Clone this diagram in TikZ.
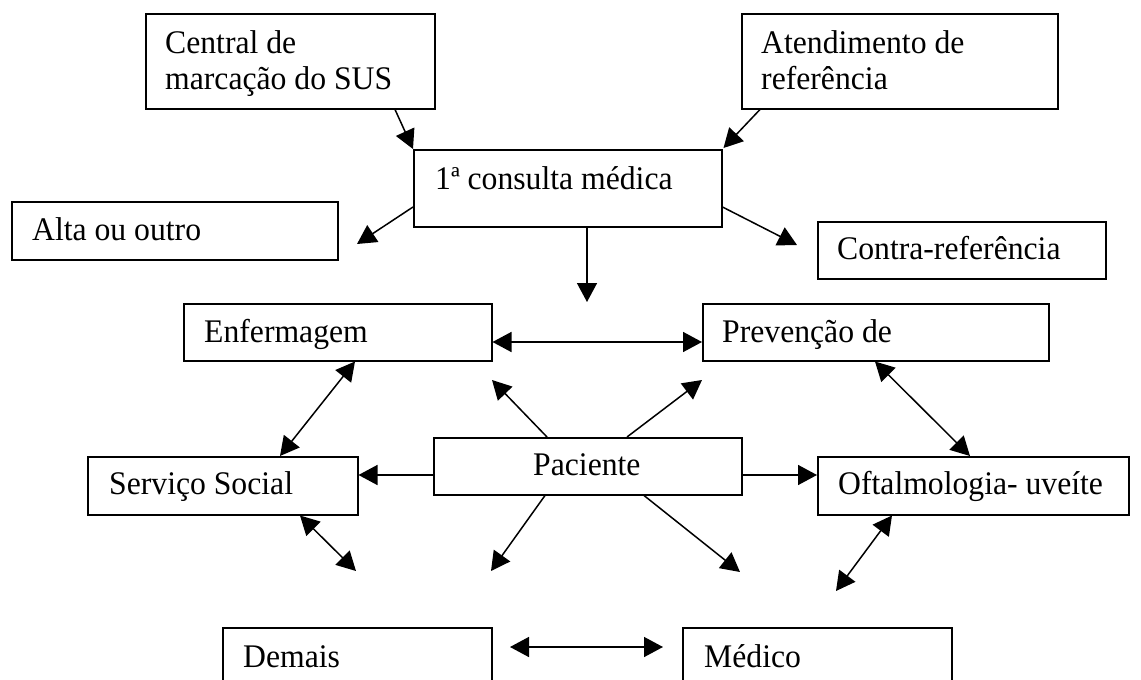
\documentclass[tikz,border=0pt]{standalone}
\usepackage{fontspec}
\setmainfont[FakeStretch=0.96]{Liberation Serif}
\usetikzlibrary{arrows.meta}
\tikzset{
 box/.style={draw, line width=1.5pt, rectangle, inner sep=0pt, anchor=north west},
 txt/.style={anchor=base west, inner sep=0pt, align=left, font=\fontsize{33}{36}\selectfont},
 arr/.style={line width=1.5pt, -{Triangle[length=19pt,width=20pt]}},
 darr/.style={line width=1.5pt, {Triangle[length=19pt,width=20pt]}-{Triangle[length=19pt,width=20pt]}},
}
\begin{document}
\begin{tikzpicture}[x=1pt,y=-1pt]
\useasboundingbox (0,0) rectangle (1141,680);
% boxes
\node[box, minimum width=289pt, minimum height=95pt] (cen) at (145,13) {};
\node[box, minimum width=316pt, minimum height=95pt] (ate) at (741,13) {};
\node[box, minimum width=308pt, minimum height=77pt] (con) at (413,149) {};
\node[box, minimum width=326pt, minimum height=58pt] (alt) at (11,201) {};
\node[box, minimum width=288pt, minimum height=57pt] (ctr) at (817,221) {};
\node[box, minimum width=308pt, minimum height=57pt] (enf) at (183,303) {};
\node[box, minimum width=346pt, minimum height=57pt] (pre) at (702,303) {};
\node[box, minimum width=270pt, minimum height=58pt] (ser) at (87,456) {};
\node[box, minimum width=308pt, minimum height=57pt] (pac) at (433,437) {};
\node[box, minimum width=311pt, minimum height=58pt] (oft) at (817,456) {};
\node[box, minimum width=269pt, minimum height=80pt] (dem) at (222,627) {};
\node[box, minimum width=269pt, minimum height=80pt] (med) at (682,627) {};
% texts
\node[txt] (cen-t) at ([xshift=20pt,yshift=-76pt]cen.north west) {Central de\\marcação do SUS};
\node[txt] (ate-t) at ([xshift=20pt,yshift=-76pt]ate.north west) {Atendimento de\\referência};
\node[txt] (con-t) at ([xshift=22pt,yshift=-40pt]con.north west) {1ª consulta médica};
\node[txt] (alt-t) at ([xshift=21pt,yshift=-39pt]alt.north west) {Alta ou outro};
\node[txt] (ctr-t) at ([xshift=20pt,yshift=-38pt]ctr.north west) {Contra-referência};
\node[txt] (enf-t) at ([xshift=21pt,yshift=-39pt]enf.north west) {Enfermagem};
\node[txt] (pre-t) at ([xshift=20pt,yshift=-39pt]pre.north west) {Prevenção de};
\node[txt] (ser-t) at ([xshift=22pt,yshift=-38pt]ser.north west) {Serviço Social};
\node[txt] (pac-t) at ([xshift=100pt,yshift=-38pt]pac.north west) {Paciente};
\node[txt] (oft-t) at ([xshift=21pt,yshift=-38pt]oft.north west) {Oftalmologia- uveíte};
\node[txt] (dem-t) at ([xshift=21pt,yshift=-40pt]dem.north west) {Demais};
\node[txt] (med-t) at ([xshift=22pt,yshift=-40pt]med.north west) {Médico};
% free ends
\coordinate (altend) at (357,244);
\coordinate (ctrend) at (797,245);
\coordinate (downend) at (587,302);
\coordinate (nwend) at (492,380);
\coordinate (neend) at (702,380);
\coordinate (swend) at (491,571);
\coordinate (seend) at (740,572);
\coordinate (serend) at (356,571);
\coordinate (oftend) at (836,591);
\coordinate (demend) at (510,647);
\coordinate (medend) at (663,647);
% connectors
\draw[arr] ([xshift=250pt]cen.south west) -- (con.north west);
\draw[arr] ([xshift=19pt]ate.south west) -- ([xshift=1pt,yshift=1pt]con.north east);
\draw[arr] ([yshift=-58pt]con.north west) -- (altend);
\draw[arr] ([yshift=-58pt]con.north east) -- (ctrend);
\draw[arr] (con.south -| downend) -- (downend);
\draw[darr] ([yshift=-39pt]enf.north east) -- ([yshift=-39pt]pre.north west);
\draw[darr] ([xshift=172pt]enf.south west) -- ([xshift=193pt]ser.north west);
\draw[darr] ([xshift=173pt]pre.south west) -- ([xshift=153pt]oft.north west);
\draw[arr] ([yshift=-38pt]pac.north west) -- ([yshift=-19pt]ser.north east);
\draw[arr] ([yshift=-38pt]pac.north east) -- ([yshift=-19pt]oft.north west);
\draw[arr] ([xshift=114pt]pac.north west) -- (nwend);
\draw[arr] ([xshift=194pt]pac.north west) -- (neend);
\draw[arr] ([xshift=112pt]pac.south west) -- (swend);
\draw[arr] ([xshift=211pt]pac.south west) -- (seend);
\draw[darr] ([xshift=213pt]ser.south west) -- (serend);
\draw[darr] ([xshift=75pt]oft.south west) -- (oftend);
\draw[darr] (demend) -- (medend);
\end{tikzpicture}
\end{document}
